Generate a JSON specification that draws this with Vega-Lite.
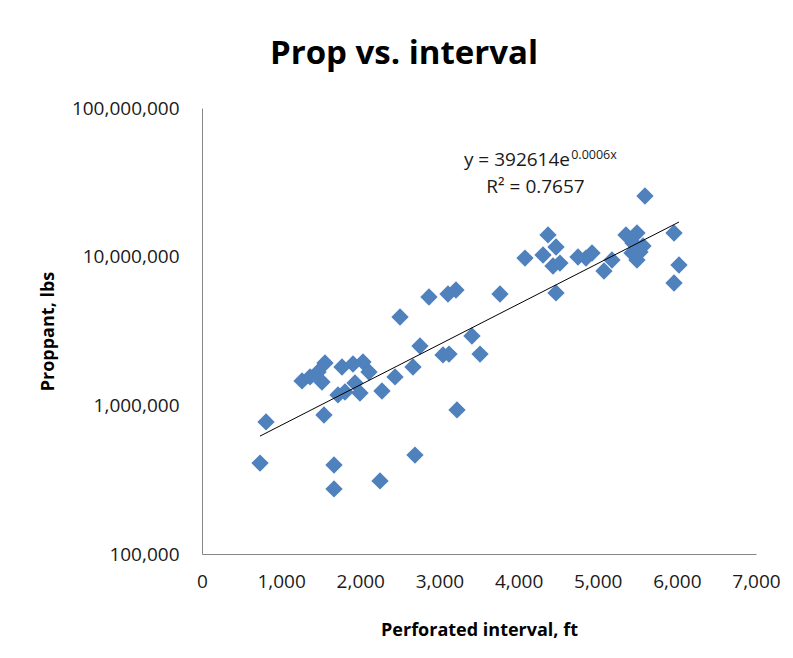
{
  "$schema": "https://vega.github.io/schema/vega-lite/v6.json",
  "width": 554,
  "height": 446,
  "autosize": {"type": "none"},
  "padding": {"left": 202, "top": 108, "right": 37, "bottom": 104},
  "background": "white",
  "title": {
    "text": "Prop vs. interval",
    "font": "Open Sans",
    "fontSize": 33,
    "fontWeight": "bold",
    "color": "#000000",
    "anchor": "middle",
    "dx": -75,
    "offset": 28
  },
  "config": {
    "view": {"stroke": null},
    "axis": {
      "grid": false,
      "ticks": false,
      "domainColor": "#868686",
      "domainWidth": 1,
      "labelFont": "Open Sans",
      "labelFontSize": 19,
      "labelColor": "#1a1a1a",
      "titleFont": "Open Sans",
      "titleFontSize": 18,
      "titleFontWeight": "bold",
      "titleColor": "#000000"
    }
  },
  "datasets": {
    "points": [
      {"interval": 733, "proppant": 409000},
      {"interval": 809, "proppant": 773000},
      {"interval": 1541, "proppant": 861000},
      {"interval": 1668, "proppant": 397000},
      {"interval": 1668, "proppant": 274000},
      {"interval": 2249, "proppant": 310000},
      {"interval": 2691, "proppant": 463000},
      {"interval": 3222, "proppant": 931000},
      {"interval": 1264, "proppant": 1459000},
      {"interval": 1365, "proppant": 1552000},
      {"interval": 1466, "proppant": 1675000},
      {"interval": 1554, "proppant": 1927000},
      {"interval": 1516, "proppant": 1436000},
      {"interval": 1769, "proppant": 1811000},
      {"interval": 1908, "proppant": 1897000},
      {"interval": 2034, "proppant": 1958000},
      {"interval": 2110, "proppant": 1675000},
      {"interval": 1933, "proppant": 1413000},
      {"interval": 1996, "proppant": 1211000},
      {"interval": 1718, "proppant": 1175000},
      {"interval": 1807, "proppant": 1230000},
      {"interval": 2274, "proppant": 1248000},
      {"interval": 2439, "proppant": 1552000},
      {"interval": 2666, "proppant": 1811000},
      {"interval": 2754, "proppant": 2506000},
      {"interval": 2502, "proppant": 3926000},
      {"interval": 2868, "proppant": 5357000},
      {"interval": 3108, "proppant": 5610000},
      {"interval": 3209, "proppant": 5970000},
      {"interval": 3045, "proppant": 2182000},
      {"interval": 3121, "proppant": 2213000},
      {"interval": 3411, "proppant": 2926000},
      {"interval": 3513, "proppant": 2213000},
      {"interval": 3765, "proppant": 5610000},
      {"interval": 4081, "proppant": 9790000},
      {"interval": 4309, "proppant": 10260000},
      {"interval": 4372, "proppant": 14000000},
      {"interval": 4473, "proppant": 11610000},
      {"interval": 4435, "proppant": 8650000},
      {"interval": 4523, "proppant": 9060000},
      {"interval": 4473, "proppant": 5700000},
      {"interval": 4751, "proppant": 9950000},
      {"interval": 4852, "proppant": 9790000},
      {"interval": 4928, "proppant": 10590000},
      {"interval": 5079, "proppant": 8010000},
      {"interval": 5180, "proppant": 9500000},
      {"interval": 5357, "proppant": 14000000},
      {"interval": 5496, "proppant": 14430000},
      {"interval": 5433, "proppant": 10590000},
      {"interval": 5496, "proppant": 9500000},
      {"interval": 5572, "proppant": 11800000},
      {"interval": 5446, "proppant": 12360000},
      {"interval": 5534, "proppant": 10740000},
      {"interval": 5597, "proppant": 25590000},
      {"interval": 5964, "proppant": 14430000},
      {"interval": 6027, "proppant": 8790000},
      {"interval": 5964, "proppant": 6650000}
    ],
    "trend": [
      {"interval": 733, "proppant": 621000},
      {"interval": 6027, "proppant": 17100000}
    ]
  },
  "layer": [
    {
      "data": {"name": "points"},
      "mark": {"type": "point", "shape": "diamond", "filled": true, "size": 300, "color": "#4F81BD", "opacity": 1},
      "encoding": {
        "x": {
          "field": "interval",
          "type": "quantitative",
          "scale": {"domain": [0, 7000], "nice": false, "zero": false},
          "axis": {
            "title": "Perforated interval, ft",
            "values": [0, 1000, 2000, 3000, 4000, 5000, 6000, 7000],
            "labelExpr": "format(datum.value, ',')",
            "labelPadding": 18,
            "titlePadding": 30,
            "labelFlush": false
          }
        },
        "y": {
          "field": "proppant",
          "type": "quantitative",
          "scale": {"type": "log", "domain": [100000, 100000000], "nice": false},
          "axis": {
            "title": "Proppant, lbs",
            "values": [100000, 1000000, 10000000, 100000000],
            "labelExpr": "format(datum.value, ',')",
            "labelPadding": 23,
            "titlePadding": 14,
            "labelFlush": false
          }
        }
      }
    },
    {
      "data": {"name": "trend"},
      "mark": {"type": "line", "color": "#000000", "strokeWidth": 1},
      "encoding": {
        "x": {"field": "interval", "type": "quantitative"},
        "y": {"field": "proppant", "type": "quantitative"}
      }
    },
    {
      "data": {"values": [{"label": "y = 392614e"}]},
      "mark": {"type": "text", "font": "Open Sans", "fontSize": 19, "align": "right", "baseline": "alphabetic", "color": "#1a1a1a"},
      "encoding": {
        "x": {"datum": 4650, "type": "quantitative"},
        "y": {"datum": 40700000, "type": "quantitative"},
        "text": {"field": "label"}
      }
    },
    {
      "data": {"values": [{"label": "0.0006x"}]},
      "mark": {"type": "text", "font": "Open Sans", "fontSize": 12.5, "align": "left", "baseline": "alphabetic", "color": "#1a1a1a"},
      "encoding": {
        "x": {"datum": 4665, "type": "quantitative"},
        "y": {"datum": 45500000, "type": "quantitative"},
        "text": {"field": "label"}
      }
    },
    {
      "data": {"values": [{"label": "R² = 0.7657"}]},
      "mark": {"type": "text", "font": "Open Sans", "fontSize": 19, "align": "center", "baseline": "alphabetic", "color": "#1a1a1a"},
      "encoding": {
        "x": {"datum": 4214, "type": "quantitative"},
        "y": {"datum": 26800000, "type": "quantitative"},
        "text": {"field": "label"}
      }
    }
  ]
}
